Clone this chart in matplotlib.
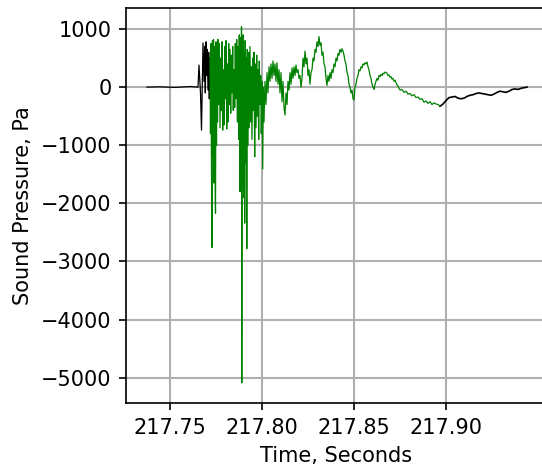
"""Sound pressure trace around the event, green section highlighted."""

import matplotlib
matplotlib.use("Agg")
import matplotlib.pyplot as plt
import numpy as np


T0 = 217.75  # seconds, times below are milliseconds after this

# black lead-in
pre_ms = [-12.50, -5.43, 2.72, 10.87, 15.22, 15.76, 16.58, 17.12, 17.94, 18.48,
          18.86, 19.19, 19.57, 19.95, 20.27, 20.65, 21.03, 21.36, 21.74]
pre_pa = [0, 5, -5, 10, 0, 380, -100, -740, 760, 100,
          700, -100, 780, 200, 650, -50, 600, -200, 500]

# green main section
main_ms = [21.74, 22.01, 22.28, 22.55, 22.83, 23.10, 23.37, 23.64, 23.91, 24.18,
           24.46, 24.73, 25.00, 25.27, 25.54, 25.82, 26.09, 26.47, 26.80, 27.18,
           27.56, 27.88, 28.26, 28.64, 28.97, 29.35, 29.73, 30.05, 30.44, 30.82,
           31.14, 31.52, 31.90, 32.23, 32.61, 32.99, 33.32, 33.70, 34.08, 34.40,
           34.78, 35.16, 35.49, 35.87, 36.25, 36.58, 36.96, 37.34, 37.66, 38.05,
           38.32, 38.59, 38.86, 39.02, 39.24, 39.51, 39.79, 40.06, 40.33, 40.60,
           40.87, 41.15, 41.42, 41.74, 42.01, 42.39, 42.77, 43.09, 43.48, 43.86,
           44.19, 44.57, 44.95, 45.27, 45.65, 46.03, 46.36, 46.74, 47.12, 47.45,
           47.83, 48.21, 48.53, 48.92, 49.30, 49.62, 50.00, 50.38, 50.71, 51.09,
           51.63, 52.18, 52.72, 53.26, 53.81, 54.35, 54.89, 55.44, 55.98, 56.52,
           57.07, 57.61, 58.15, 58.70, 59.24, 59.79, 60.33, 60.87, 61.42, 61.96,
           62.50, 63.05, 63.59, 64.13, 64.68, 65.22, 65.76, 66.31, 66.85, 67.39,
           67.94, 68.48, 69.02, 69.57, 70.11, 70.66, 71.20, 71.74, 72.29, 72.83,
           73.37, 73.92, 74.46, 75.00, 75.55, 76.09, 76.63, 77.18, 77.72, 78.26,
           78.81, 79.35, 79.89, 80.44, 80.98, 81.53, 82.07, 82.61, 83.16, 83.70,
           84.24, 84.79, 85.33, 85.87, 86.42, 86.96, 87.50, 88.05, 88.59, 89.13,
           89.68, 90.22, 90.76, 91.31, 91.85, 92.40, 92.94, 93.48, 94.03, 94.57,
           95.11, 95.66, 96.20, 96.74, 97.29, 97.83, 98.37, 98.92, 99.46, 100.00,
           100.55, 101.09, 101.63, 102.18, 102.72, 103.27, 103.81, 104.35, 104.90, 105.44,
           105.98, 106.53, 107.07, 107.61, 108.16, 108.70, 109.24, 109.79, 110.33, 110.87,
           111.42, 111.96, 112.50, 113.05, 113.59, 114.14, 114.68, 115.22, 115.77, 116.31,
           116.85, 117.40, 117.94, 118.48, 119.03, 119.57, 120.11, 120.66, 121.20, 121.74,
           122.29, 122.83, 123.37, 123.92, 124.46, 125.01, 126.09, 127.18, 128.27, 129.35,
           130.44, 131.53, 132.61, 133.70, 134.79, 135.88, 136.96, 138.05, 139.14, 140.22,
           141.31, 142.40, 143.48, 144.57, 145.66, 146.75]
main_pa = [500, -800, 750, -1500, -2760, 800, -1200, 820, -1650, 700,
           -1400, -2170, 780, -1000, 600, -600, 820, -300, 750, -700,
           500, -400, 780, -740, 300, -650, 700, -200, 800, -720,
           400, -600, 750, -300, 650, -450, 550, -100, 700, -400,
           300, -350, 750, -200, 820, -600, 700, -900, 900, -1800,
           850, -1500, 1040, -5090, 700, -1700, 900, -1900, 600, -2340,
           800, -1300, 500, -2780, 650, -1000, 600, -700, 700, -600,
           350, -900, 500, -400, 600, -1200, 400, -700, 550, -500,
           300, -900, 450, -300, 200, -800, 100, -1410, 0, -600,
           100, -300, 250, -100, 350, 100, 400, 150, 450, 200,
           400, 100, 420, 50, 300, -100, 250, -250, 100, -350,
           -480, -100, -300, 100, -50, 250, 50, 330, 150, 350,
           200, 380, 250, 300, 150, 200, 0, 150, 500, 350,
           620, 400, 500, 200, 300, 50, 250, 300, 500, 450,
           650, 600, 780, 700, 870, 720, 760, 550, 600, 400,
           350, 150, 30, 200, 100, 250, 150, 300, 250, 400,
           350, 500, 450, 580, 550, 650, 600, 660, 620, 550,
           450, 400, 250, 200, 50, 0, -100, -50, -200, -220,
           0, 50, 150, 200, 300, 280, 350, 330, 400, 380,
           420, 400, 430, 350, 300, 200, 150, 50, 0, -40,
           50, 100, 150, 120, 200, 180, 220, 200, 240, 230,
           260, 250, 240, 200, 210, 170, 180, 140, 150, 100,
           120, 80, 40, 20, -20, -50, -40, -90, -70, -120,
           -110, -150, -130, -180, -170, -210, -200, -260, -240, -280,
           -250, -300, -270, -290, -300, -330]

# black tail
post_ms = [146.75, 148.38, 150.01, 151.64, 153.27, 154.90, 156.53, 158.16, 159.79, 161.42,
           163.05, 164.68, 166.31, 167.94, 169.57, 171.20, 172.83, 174.46, 176.09, 177.72,
           179.36, 180.99, 182.62, 184.25, 185.88, 187.51, 189.14, 190.77, 192.40, 194.02]
post_pa = [-330, -290, -230, -180, -170, -160, -190, -200, -190, -160,
           -140, -130, -110, -100, -110, -120, -130, -140, -120, -90,
           -70, -80, -90, -70, -40, -30, -40, -20, -10, 0]


def to_sec(ms):
    return T0 + np.asarray(ms) / 1000.0


plt.rcParams["font.family"] = "DejaVu Sans"

fig = plt.figure(figsize=(542 / 150, 472 / 150), dpi=150)
ax = fig.add_axes([126 / 542, 69 / 472, 419.4 / 542, 395 / 472])

ax.plot(to_sec(pre_ms), pre_pa, color="black", linewidth=0.6)
ax.plot(to_sec(post_ms), post_pa, color="black", linewidth=0.8)
ax.plot(to_sec(main_ms), main_pa, color="green", linewidth=0.6)

ax.set_xlim(217.72609, 217.95402)
ax.set_ylim(-5436, 1362)
ax.set_xticks([217.75, 217.80, 217.85, 217.90])
ax.set_yticks([1000, 0, -1000, -2000, -3000, -4000, -5000])
ax.grid(True, color="#b0b0b0", linewidth=1.0)
ax.set_axisbelow(True)

ax.set_xlabel("Time, Seconds")
ax.set_ylabel("Sound Pressure, Pa")

fig.savefig("out.png", dpi=150)
